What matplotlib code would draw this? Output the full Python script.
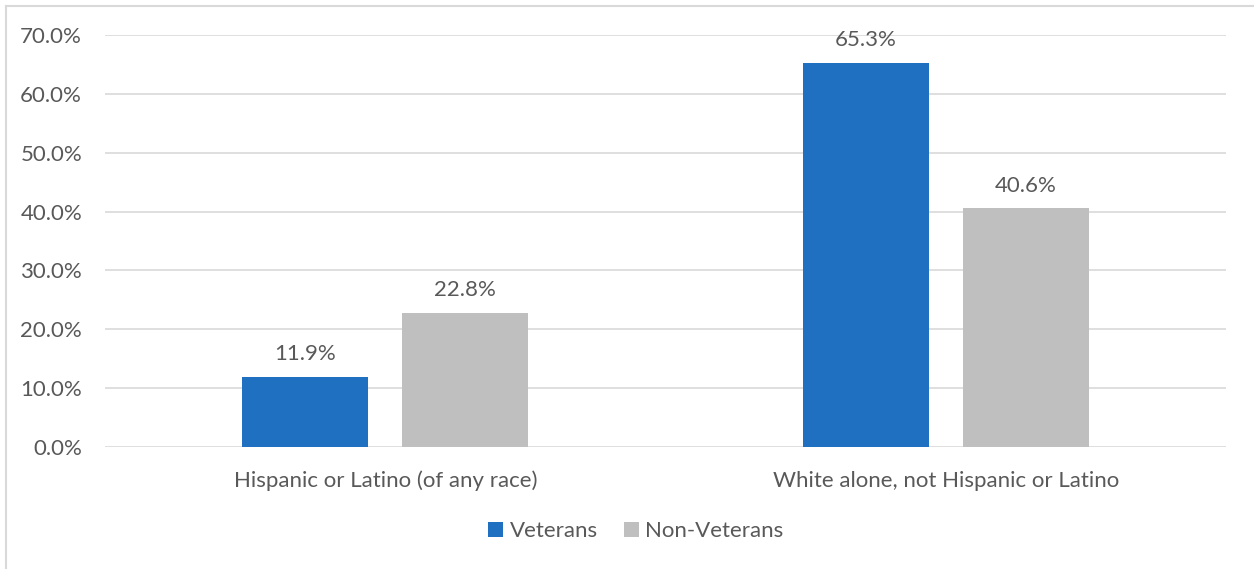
import matplotlib
matplotlib.use("Agg")
import matplotlib.pyplot as plt
import numpy as np
from matplotlib.lines import Line2D

categories = ["Hispanic or Latino (of any race)", "White alone, not Hispanic or Latino"]
veterans = [11.9, 65.3]
non_veterans = [22.8, 40.6]
series_names = ["Veterans", "Non-Veterans"]
yticks = [0, 10, 20, 30, 40, 50, 60, 70]

plt.rcParams['font.family'] = ['Lato', 'DejaVu Sans']
txt = '#595959'
blue = '#1F70C1'
gray = '#BFBFBF'
fs = 16

fig = plt.figure(figsize=(12.54, 5.69), dpi=100)
ax = fig.add_axes([105/1254, 1-447/569, (1226-105)/1254, (447-35)/569])

x = np.arange(len(categories))
w = 0.225
off = 0.1425
b1 = ax.bar(x - off, veterans, w, color=blue, label=series_names[0], zorder=3)
b2 = ax.bar(x + off, non_veterans, w, color=gray, label=series_names[1], zorder=3)

for bars, vals in ((b1, veterans), (b2, non_veterans)):
    for r, v in zip(bars, vals):
        ax.annotate(f"{v:.1f}%", (r.get_x() + r.get_width()/2, v), xytext=(0, 9),
                    textcoords='offset points', ha='center', va='bottom',
                    fontsize=fs, color=txt)

ax.set_xlim(-0.5, 1.5)
ax.set_ylim(0, 70)
ax.set_yticks(yticks)
ax.set_yticklabels([f"{t:.1f}%" for t in yticks])
ax.set_xticks(x)
ax.set_xticklabels(categories)
ax.tick_params(axis='y', length=0, pad=16.5, labelsize=fs, labelcolor=txt)
ax.tick_params(axis='x', length=0, pad=17, labelsize=fs, labelcolor=txt)
ax.grid(axis='y', color='#D9D9D9', linewidth=1.2, zorder=0)
for s in ax.spines.values():
    s.set_visible(False)

leg = fig.legend(handles=[b1, b2], labels=series_names, loc='center',
                 bbox_to_anchor=(636/1254, 1-531/569), ncol=2, frameon=False,
                 fontsize=fs, handlelength=0.65, handleheight=0.65,
                 handletextpad=0.3, columnspacing=1.2)
for t in leg.get_texts():
    t.set_color(txt)

fig.add_artist(Line2D([6/1254, 6/1254], [0, 1-6/569], transform=fig.transFigure, color='#D9D9D9', lw=1.5))
fig.add_artist(Line2D([6/1254, 1], [1-6/569, 1-6/569], transform=fig.transFigure, color='#D9D9D9', lw=1.5))

fig.savefig("out.png", dpi=100)
